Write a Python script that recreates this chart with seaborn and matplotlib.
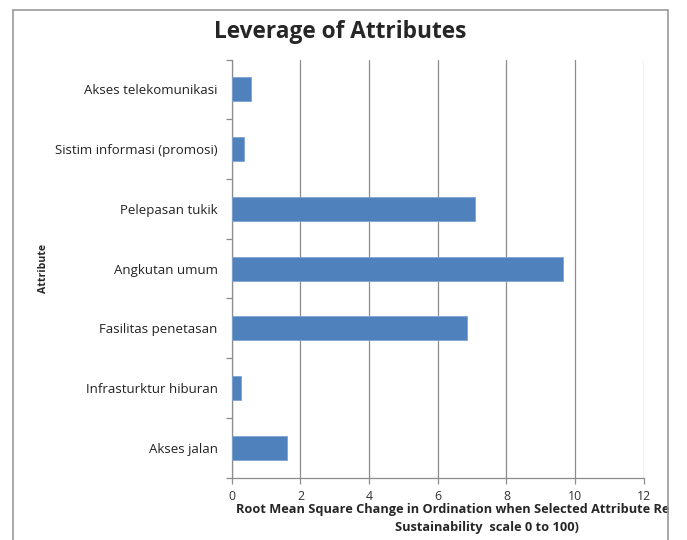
import matplotlib
matplotlib.use("Agg")
import matplotlib.pyplot as plt
import seaborn as sns
import pandas as pd
from matplotlib.lines import Line2D

attributes = [
    "Akses telekomunikasi",
    "Sistim informasi (promosi)",
    "Pelepasan tukik",
    "Angkutan umum",
    "Fasilitas penetasan",
    "Infrasturktur hiburan",
    "Akses jalan",
]
rms_change = [0.56, 0.35, 7.10, 9.65, 6.85, 0.27, 1.60]
x_ticks = [0, 2, 4, 6, 8, 10, 12]

sns.set_theme(style="white")
plt.rcParams["font.family"] = ["Open Sans", "DejaVu Sans"]

df = pd.DataFrame({"Attribute": attributes, "RMS": rms_change})

fig = plt.figure(figsize=(6.87, 5.40), dpi=100)
ax = fig.add_axes([0.3373, 0.1154, 0.5997, 0.7744])

sns.barplot(data=df, x="RMS", y="Attribute", order=attributes, orient="h",
            color="#4F81BD", saturation=1, width=0.4,
            edgecolor="#7FA3D0", linewidth=0.6, ax=ax, zorder=3)

grid_c = "#8C8C8C"
ax.set_xlim(0, 12)
ax.set_ylim(len(attributes) - 0.5, -0.5)
ax.set_xticks(x_ticks)
ax.set_xticklabels([str(t) for t in x_ticks], fontsize=8.8, color="#333333")
ax.xaxis.grid(True, color=grid_c, linewidth=0.9, zorder=0)
ax.yaxis.grid(False)

ax.set_yticks(range(len(attributes)))
ax.set_yticklabels(attributes, fontsize=9.5, color="#222222")
ax.set_yticks([i + 0.5 for i in range(-1, len(attributes))], minor=True)
ax.tick_params(axis="y", which="major", length=0, pad=10)
ax.tick_params(axis="y", which="minor", length=4, width=0.9, color=grid_c, direction="out", left=True)
ax.tick_params(axis="x", which="major", length=4, width=0.9, color=grid_c, direction="out", bottom=True, pad=5)

for side in ("top", "right"):
    ax.spines[side].set_visible(False)
for side in ("left", "bottom"):
    ax.spines[side].set_color(grid_c)
    ax.spines[side].set_linewidth(0.9)

ax.set_ylabel("")
ax.set_xlabel("")

fig.text(44 / 687, 1 - 268 / 540, "Attribute", rotation=90, ha="center", va="center",
         fontsize=7.6, fontweight="bold")

fig.text(340 / 687, 1 - 32 / 540, "Leverage of Attributes", ha="center", va="center",
         fontsize=16.3, fontweight="bold")

# axis title, its first line running up to the chart border
fig.text(236 / 687, 1 - 510 / 540,
         "Root Mean Square Change in Ordination when Selected Attribute Re",
         ha="left", va="center", fontsize=9.2, fontweight="bold")
fig.text(487 / 687, 1 - 527 / 540, "Sustainability  scale 0 to 100)",
         ha="center", va="center", fontsize=9.2, fontweight="bold")

# chart area border
border_c = "#9A9A9A"
fig.lines.append(Line2D([13 / 687, 13 / 687], [0, 1 - 10 / 540], transform=fig.transFigure,
                        color=border_c, linewidth=1.2, zorder=11))
fig.lines.append(Line2D([13 / 687, 668 / 687], [1 - 10 / 540, 1 - 10 / 540], transform=fig.transFigure,
                        color=border_c, linewidth=1.2, zorder=11))
fig.lines.append(Line2D([668 / 687, 668 / 687], [0, 1 - 10 / 540], transform=fig.transFigure,
                        color=border_c, linewidth=1.2, zorder=11))

fig.savefig("out.png", dpi=100, facecolor="white")
